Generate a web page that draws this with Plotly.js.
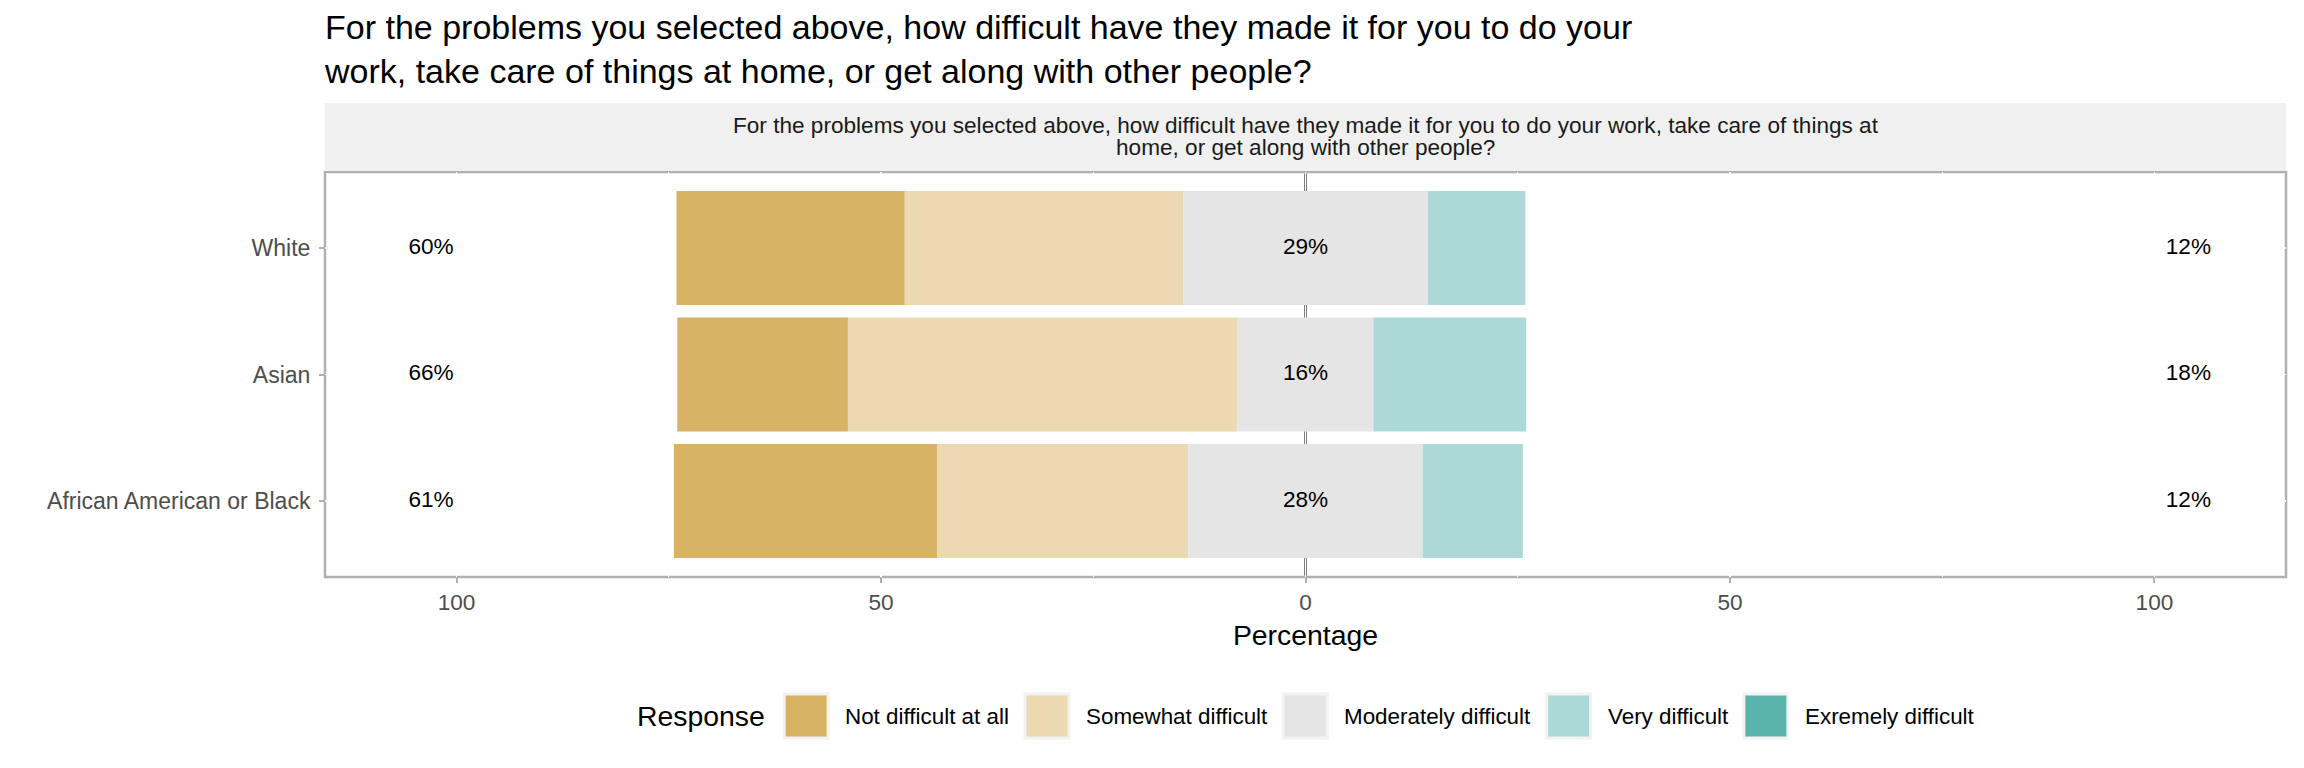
<!DOCTYPE html>
<html>
<head>
<meta charset="utf-8">
<script src="https://cdn.plot.ly/plotly-3.0.1.min.js"></script>
<style>
html, body { margin: 0; padding: 0; background: #ffffff; }
#chart { width: 2304px; height: 768px; }
</style>
</head>
<body>
<div id="chart"></div>
<script>
// ---------- data ----------
const groups = ['White', 'Asian', 'African American or Black'];
const responses = ['Not difficult at all', 'Somewhat difficult', 'Moderately difficult', 'Very difficult', 'Exremely difficult'];
const notDifficult = [26.9, 20.1, 31.0];
const somewhatDifficult = [32.8, 45.9, 29.6];
const moderatelyDifficult = [28.8, 16.0, 27.6];
const veryDifficult = [11.5, 18.0, 11.8];
const extremelyDifficult = [0, 0, 0];
const lowLabels = ['60%', '66%', '61%'];
const neutralLabels = ['29%', '16%', '28%'];
const highLabels = ['12%', '18%', '12%'];
const tickVals = [-100, -50, 0, 50, 100];
const tickText = ['100', '50', '0', '50', '100'];
const minorTickVals = [-75, -25, 25, 75];
const titleText = 'For the problems you selected above, how difficult have they made it for you to do your<br>work, take care of things at home, or get along with other people?';
const stripLines = ['For the problems you selected above, how difficult have they made it for you to do your work, take care of things at',
                    'home, or get along with other people?'];
const legendTitle = 'Response';
const xTitle = 'Percentage';

// ---------- styles ----------
const colors = ['#D8B365', '#EBD9B2', '#E5E5E5', '#ACD9D5', '#5AB4AC'];
const FONT = '"Liberation Sans", Arial, sans-serif';
const W = 2304, H = 768;
const M = { l: 325, r: 18, t: 172, b: 191 };
const PW = W - M.l - M.r, PH = H - M.t - M.b;
const px2x = px => (px - M.l) / PW;
const py2y = py => (H - M.b - py) / PH;
const TXT = 22.6;

// diverging stack: neutral centred on 0, low responses to the left, high to the right
const modBase = moderatelyDifficult.map(v => -v / 2);
const somewhatBase = modBase.map((b, i) => b - somewhatDifficult[i]);
const notBase = somewhatBase.map((b, i) => b - notDifficult[i]);
const veryBase = moderatelyDifficult.map(v => v / 2);
const extremeBase = veryBase.map((b, i) => b + veryDifficult[i]);

function barTrace(vals, base, color, name) {
  return {
    type: 'bar', orientation: 'h', y: groups, x: vals, base: base, name: name,
    width: 0.9, marker: { color: color, line: { width: 0 } },
    hoverinfo: 'skip', showlegend: false
  };
}

const traces = [
  barTrace(notDifficult, notBase, colors[0], responses[0]),
  barTrace(somewhatDifficult, somewhatBase, colors[1], responses[1]),
  barTrace(moderatelyDifficult, modBase, colors[2], responses[2]),
  barTrace(veryDifficult, veryBase, colors[3], responses[3]),
  barTrace(extremelyDifficult, extremeBase, colors[4], responses[4])
];

function textTrace(xpos, labels) {
  return {
    type: 'scatter', mode: 'text', y: groups, x: groups.map(() => xpos), text: labels,
    textposition: 'middle center', textfont: { family: FONT, size: TXT, color: '#000000' },
    hoverinfo: 'skip', showlegend: false, cliponaxis: false
  };
}
traces.push(textTrace(-103, lowLabels));
traces.push(textTrace(0, neutralLabels));
traces.push(textTrace(104, highLabels));

// ---------- manual legend (large keys like the original) ----------
const cv = document.createElement('canvas').getContext('2d');
function textW(t, size) { cv.font = size + 'px ' + FONT; return cv.measureText(t).width; }
const LTXT = 22.4, LTITLE = 28.4;
const KEY = 44, GAP_KEY_TEXT = 17, GAP_ITEM = 16, GAP_TITLE = 19;
let total = textW(legendTitle, LTITLE) + GAP_TITLE;
responses.forEach((r, i) => { total += KEY + GAP_KEY_TEXT + textW(r, LTXT) + (i < responses.length - 1 ? GAP_ITEM : 0); });
let cx = M.l + PW / 2 - total / 2;
const legendY = 716;
const shapes = [];
const annotations = [];
annotations.push({ xref: 'paper', yref: 'paper', x: px2x(cx), y: py2y(legendY), xanchor: 'left', yanchor: 'middle',
  text: legendTitle, showarrow: false, borderpad: 0, borderwidth: 0, font: { family: FONT, size: LTITLE, color: '#000000' } });
cx += textW(legendTitle, LTITLE) + GAP_TITLE;
responses.forEach((r, i) => {
  shapes.push({ type: 'rect', xref: 'paper', yref: 'paper', layer: 'above',
    x0: px2x(cx), x1: px2x(cx + KEY), y0: py2y(legendY - KEY / 2), y1: py2y(legendY + KEY / 2),
    fillcolor: colors[i], line: { color: '#F2F2F2', width: 3 } });
  cx += KEY + GAP_KEY_TEXT;
  annotations.push({ xref: 'paper', yref: 'paper', x: px2x(cx), y: py2y(legendY), xanchor: 'left', yanchor: 'middle',
    text: r, showarrow: false, borderpad: 0, borderwidth: 0, font: { family: FONT, size: LTXT, color: '#000000' } });
  cx += textW(r, LTXT) + GAP_ITEM;
});

// panel border (below gridlines so the white grid breaks it, as in the original)
shapes.push({ type: 'rect', xref: 'paper', yref: 'paper', layer: 'below', x0: 0, x1: 1, y0: 0, y1: 1,
  fillcolor: 'rgba(0,0,0,0)', line: { color: '#B0B0B0', width: 2.5 } });
// facet strip
shapes.push({ type: 'rect', xref: 'paper', yref: 'paper', layer: 'below', x0: 0, x1: 1, y0: py2y(171), y1: py2y(103),
  fillcolor: '#F0F0F0', line: { width: 0 } });
// zero reference line, drawn between the gridlines and the bars
shapes.push({ type: 'line', xref: 'x', yref: 'paper', layer: 'between', x0: 0, x1: 0, y0: 0.004, y1: 0.996,
  line: { color: '#000000', width: 2 } });
stripLines.forEach((s, i) => {
  annotations.push({ xref: 'paper', yref: 'paper', x: 0.5, y: py2y(125 + i * 23), xanchor: 'center', yanchor: 'middle',
    text: s, showarrow: false, borderpad: 0, borderwidth: 0, font: { family: FONT, size: TXT, color: '#1A1A1A' } });
});

const layout = {
  width: W, height: H,
  margin: M,
  paper_bgcolor: '#FFFFFF', plot_bgcolor: '#FFFFFF',
  barmode: 'overlay',
  font: { family: FONT },
  title: {
    text: titleText, x: 0, xref: 'paper', xanchor: 'left',
    y: 1 - 39 / H, yref: 'container', yanchor: 'top',
    font: { family: FONT, size: 34, color: '#000000' }
  },
  xaxis: {
    range: [-115.5, 115.5], fixedrange: true,
    tickmode: 'array', tickvals: tickVals, ticktext: tickText,
    ticks: 'outside', ticklen: 5, tickwidth: 2, tickcolor: '#B0B0B0',
    tickfont: { family: FONT, size: TXT, color: '#4D4D4D' },
    showgrid: true, gridcolor: '#FFFFFF', gridwidth: 1.5,
    minor: { tickmode: 'array', tickvals: minorTickVals, showgrid: true, gridcolor: '#FFFFFF', gridwidth: 1.2, ticks: '' },
    zeroline: false,
    showline: false,
    title: { text: xTitle, font: { family: FONT, size: 28.4, color: '#000000' }, standoff: 10 }
  },
  yaxis: {
    type: 'category', categoryorder: 'array', categoryarray: groups,
    range: [2.6, -0.6], fixedrange: true,
    ticks: 'outside', ticklen: 5, tickwidth: 2, tickcolor: '#B0B0B0',
    ticklabelstandoff: 4,
    tickfont: { family: FONT, size: 23, color: '#4D4D4D' },
    showgrid: true, gridcolor: '#FFFFFF', gridwidth: 1.5,
    zeroline: false, showline: false
  },
  shapes: shapes,
  annotations: annotations,
  showlegend: false
};

Plotly.newPlot('chart', traces, layout, { displayModeBar: false, staticPlot: true });
</script>
</body>
</html>
